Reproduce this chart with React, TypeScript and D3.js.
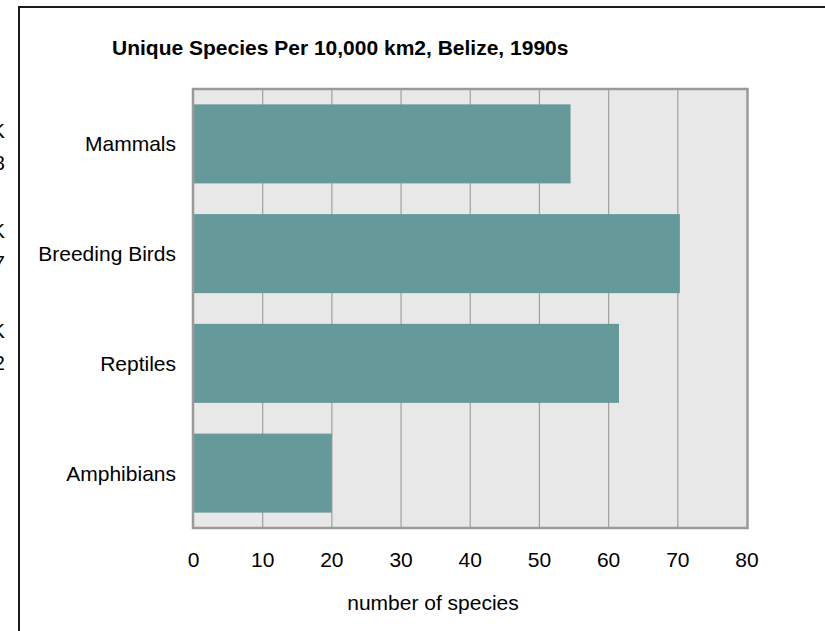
import React, { useEffect, useRef } from "react";
import * as d3 from "d3";

const categories = ["Mammals", "Breeding Birds", "Reptiles", "Amphibians"];
const speciesCounts = [54.5, 70.3, 61.5, 20];
const xTicks = [0, 10, 20, 30, 40, 50, 60, 70, 80];
// clipped text at left edge of the page
const edgeGlyphs = [["K", "8"], ["K", "7"], ["K", "2"]];

const FONT = "'Liberation Sans', Arial, sans-serif";

const App: React.FC = () => {
  const d3Container = useRef<SVGSVGElement>(null);

  useEffect(() => {
    if (!d3Container.current) return;
    const width = 825;
    const height = 631;
    const plot = { left: 193.5, right: 747, top: 89, bottom: 528 };

    const svg = d3.select(d3Container.current).html("");

    svg
      .append("rect")
      .attr("width", width)
      .attr("height", height)
      .attr("fill", "#fff");

    // outer frame (only top & left visible)
    svg
      .append("path")
      .attr("d", `M19,${height + 5} L19,7 L${width + 5},7`)
      .attr("fill", "none")
      .attr("stroke", "#1a1a1a")
      .attr("stroke-width", 2);

    edgeGlyphs.forEach((pair, i) => {
      pair.forEach((g, j) => {
        svg
          .append("text")
          .attr("x", 5)
          .attr("y", 138 + i * 100 + j * 32)
          .attr("text-anchor", "end")
          .attr("font-family", FONT)
          .attr("font-size", 21)
          .attr("fill", "#000")
          .text(g);
      });
    });

    const x = d3.scaleLinear().domain([0, 80]).range([plot.left, plot.right]);
    const y = d3
      .scaleBand<string>()
      .domain(categories)
      .range([plot.top, plot.bottom])
      .paddingInner(0.28)
      .paddingOuter(0.14);

    svg
      .append("rect")
      .attr("x", plot.left)
      .attr("y", plot.top)
      .attr("width", plot.right - plot.left)
      .attr("height", plot.bottom - plot.top)
      .attr("fill", "#e8e8e8");

    // gridlines
    svg
      .append("g")
      .selectAll("line")
      .data(xTicks.slice(1, -1))
      .join("line")
      .attr("x1", (d) => x(d))
      .attr("x2", (d) => x(d))
      .attr("y1", plot.top)
      .attr("y2", plot.bottom)
      .attr("stroke", "#a0a0a0")
      .attr("stroke-width", 1.2);

    // bars
    svg
      .append("g")
      .selectAll("rect")
      .data(categories)
      .join("rect")
      .attr("x", x(0))
      .attr("y", (d) => y(d) ?? 0)
      .attr("width", (d, i) => x(speciesCounts[i]) - x(0))
      .attr("height", y.bandwidth())
      .attr("fill", "#669999");

    // plot frame
    svg
      .append("rect")
      .attr("x", plot.left - 0.5)
      .attr("y", plot.top)
      .attr("width", plot.right - plot.left + 1)
      .attr("height", plot.bottom - plot.top)
      .attr("fill", "none")
      .attr("stroke", "#9a9a9a")
      .attr("stroke-width", 2.5);

    // category labels
    svg
      .append("g")
      .selectAll("text")
      .data(categories)
      .join("text")
      .attr("x", 176)
      .attr("y", (d) => (y(d) ?? 0) + y.bandwidth() / 2 + 7.5)
      .attr("text-anchor", "end")
      .attr("font-family", FONT)
      .attr("font-size", 21)
      .attr("fill", "#000")
      .text((d) => d);

    // x tick labels
    svg
      .append("g")
      .selectAll("text")
      .data(xTicks)
      .join("text")
      .attr("x", (d) => x(d))
      .attr("y", 567)
      .attr("text-anchor", "middle")
      .attr("font-family", FONT)
      .attr("font-size", 21)
      .attr("fill", "#000")
      .text((d) => d);

    svg
      .append("text")
      .attr("x", 433)
      .attr("y", 610)
      .attr("text-anchor", "middle")
      .attr("font-family", FONT)
      .attr("font-size", 21)
      .attr("fill", "#000")
      .text("number of species");

    svg
      .append("text")
      .attr("x", 112)
      .attr("y", 55)
      .attr("font-family", FONT)
      .attr("font-size", 21)
      .attr("font-weight", "bold")
      .attr("fill", "#000")
      .text("Unique Species Per 10,000 km2, Belize, 1990s");
  }, []);

  return (
    <svg
      ref={d3Container}
      width={825}
      height={631}
      style={{ position: "absolute", left: 0, top: 0, display: "block" }}
    />
  );
};

export default App;
